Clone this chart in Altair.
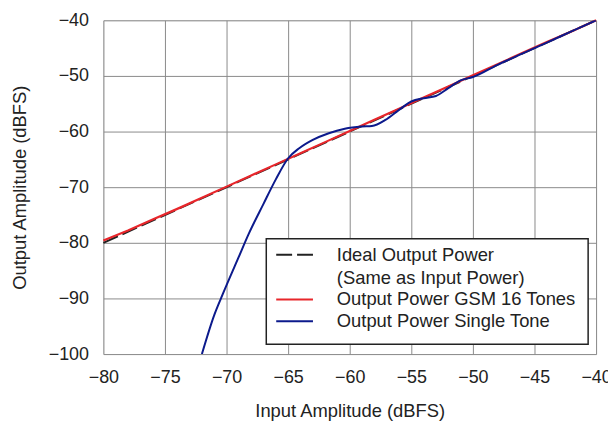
import altair as alt
import pandas as pd

# Ideal line (y = x)
ideal_x = [-80, -40]
ideal_y = [-80, -40]

# GSM 16 tones (red)
red_x = [-80, -78, -76, -74, -72, -70, -68, -66, -64, -62, -60, -58, -56, -54, -52, -50, -48, -46, -44, -42, -40]
red_y = [-79.6, -77.8, -75.8, -73.9, -71.9, -69.9, -67.9, -65.9, -63.9, -61.9, -59.9, -57.9, -55.9, -53.9, -51.9, -49.9, -47.9, -45.9, -43.9, -42.0, -40.0]

# Single tone (blue)
blue_x = [-72, -71, -70.3, -69, -68.2, -67, -66, -65, -64.1, -63, -61.7, -60.4, -59, -58.2, -57.1, -56, -55, -54, -53, -52, -51, -50, -48, -46, -44, -42, -40]
blue_y = [-100, -93, -89.2, -82.5, -78.4, -73, -68.6, -64.8, -63.0, -61.5, -60.3, -59.5, -59.1, -59.0, -57.9, -56.1, -54.6, -54.0, -53.6, -52.2, -50.8, -50.2, -48.0, -46.0, -44.0, -42.0, -40.0]

x_ticks = [-80, -75, -70, -65, -60, -55, -50, -45, -40]
y_ticks = [-100, -90, -80, -70, -60, -50, -40]

legend_labels = ["Ideal Output Power", "(Same as Input Power)", "Output Power GSM 16 Tones", "Output Power Single Tone"]
RED = "#e8262b"
BLUE = "#0c1a8c"
FONT = "Liberation Sans"
FS = 18
TFS = 18.5
LFS = 18.5

W, H = 496, 336
OX, OY = 104, 19  # plot origin in page pixels

xs = alt.Scale(domain=[-80, -40], nice=False, zero=False)
ys = alt.Scale(domain=[-100, -40], nice=False, zero=False)

xaxis = alt.Axis(values=x_ticks, title="Input Amplitude (dBFS)", ticks=False, domain=False,
                 grid=True, gridColor="#8a8a8a", gridWidth=1, labelPadding=15,
                 labelFontSize=FS, titleFontSize=TFS, titleFontWeight="normal",
                 titleY=57, titleBaseline="middle", labelFlush=False, labelColor="#222", titleColor="#222")
yaxis = alt.Axis(values=y_ticks, title="Output Amplitude (dBFS)", ticks=False, domain=False,
                 grid=True, gridColor="#8a8a8a", gridWidth=1, labelPadding=15,
                 labelFontSize=FS, titleFontSize=TFS, titleFontWeight="normal",
                 titleX=-84, titleY=H / 2, titleAngle=270, titleAlign="center", titleBaseline="middle",
                 labelColor="#222", titleColor="#222")

ideal = alt.Chart(pd.DataFrame({"x": ideal_x, "y": ideal_y})).mark_line(
    color="#222", strokeDash=[16, 5], strokeWidth=2
).encode(x=alt.X("x:Q", scale=xs, axis=xaxis), y=alt.Y("y:Q", scale=ys, axis=yaxis))

red = alt.Chart(pd.DataFrame({"x": red_x, "y": red_y})).mark_line(
    color=RED, strokeWidth=2.2
).encode(x=alt.X("x:Q", scale=xs), y=alt.Y("y:Q", scale=ys))

blue = alt.Chart(pd.DataFrame({"x": blue_x, "y": blue_y})).mark_line(
    color=BLUE, strokeWidth=2, interpolate="monotone", clip=True
).encode(x=alt.X("x:Q", scale=xs), y=alt.Y("y:Q", scale=ys))

# Legend box (pixel positions relative to plot area)
L0, T0 = 268 - OX, 239 - OY
R0, B0 = 592 - OX, 345 - OY
box = alt.Chart(pd.DataFrame({"a": [0]})).mark_rect(
    fill="white", stroke="#222", strokeWidth=1.5
).encode(x=alt.value(L0), x2=alt.value(R0), y=alt.value(T0), y2=alt.value(B0))

sym_x0, sym_x1 = 278 - OX, 315 - OX
rows_y = [255 - OY, 278 - OY, 300 - OY, 322 - OY]
leg_ideal = alt.Chart(pd.DataFrame({"a": [0]})).mark_rule(
    color="#222", strokeDash=[16, 5], strokeWidth=2
).encode(x=alt.value(sym_x0), x2=alt.value(sym_x1), y=alt.value(rows_y[0]))
leg_red = alt.Chart(pd.DataFrame({"a": [0]})).mark_rule(color=RED, strokeWidth=2).encode(
    x=alt.value(sym_x0), x2=alt.value(sym_x1), y=alt.value(rows_y[2]))
leg_blue = alt.Chart(pd.DataFrame({"a": [0]})).mark_rule(color=BLUE, strokeWidth=2).encode(
    x=alt.value(sym_x0), x2=alt.value(sym_x1), y=alt.value(rows_y[3]))

texts = []
for lab, yy in zip(legend_labels, rows_y):
    texts.append(
        alt.Chart(pd.DataFrame({"t": [lab]})).mark_text(
            align="left", baseline="middle", fontSize=LFS, font=FONT, color="#222"
        ).encode(x=alt.value(339 - OX), y=alt.value(yy), text="t:N")
    )

chart = alt.layer(ideal, red, blue, box, leg_ideal, leg_red, leg_blue, *texts).properties(
    width=W, height=H,
    autosize=alt.AutoSizeParams(type="none"),
    padding={"left": OX - 8, "top": OY - 8, "right": 12, "bottom": 66},
).configure_view(stroke="#222", strokeWidth=3.5).configure(font=FONT)

chart.save("out.html", embed_options={"renderer": "svg", "actions": False})
